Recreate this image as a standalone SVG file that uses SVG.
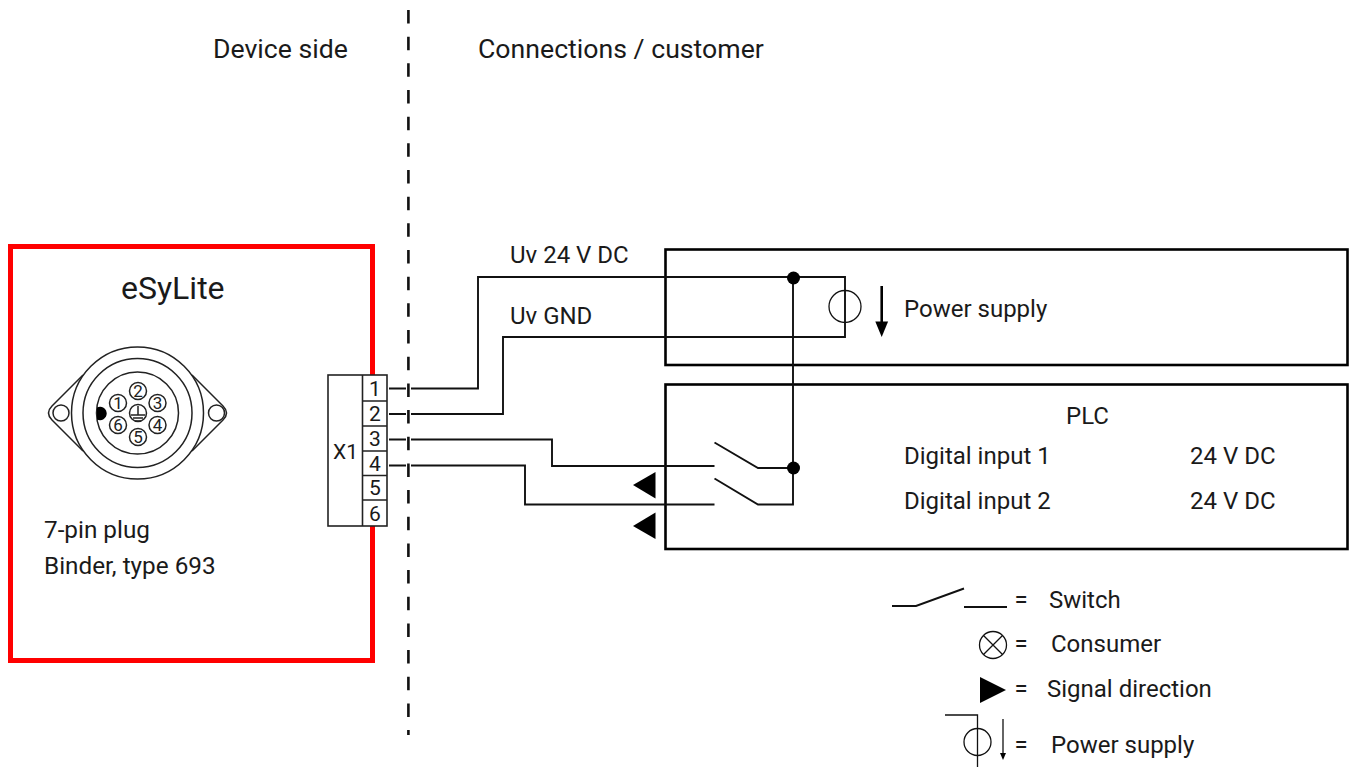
<svg xmlns="http://www.w3.org/2000/svg" width="1353" height="767" viewBox="0 0 1353 767">
<style>
text{font-family:Roboto,"Liberation Sans",sans-serif;fill:#1a1a1a;font-size:24px}
.h{font-size:26.67px}
.m{font-size:24px}
.l{fill:none;stroke:#111;stroke-width:1.9}
.t{fill:none;stroke:#111;stroke-width:1.3}
.b{fill:#000;stroke:none}
.box{fill:none;stroke:#000;stroke-width:2.6}
.pin{fill:none;stroke:#222;stroke-width:1.5}
.d{font-size:17px;text-anchor:middle;fill:#222}
.n{text-anchor:middle;font-size:21px}
</style>
<rect width="1353" height="767" fill="#fff"/>
<g id="device"><rect x="10.500" y="246.500" width="362" height="414" fill="none" stroke="#f00" stroke-width="5"/></g>
<g id="divider"><line x1="408.400" y1="10" x2="408.400" y2="735" stroke="#111" stroke-width="2.600" stroke-dasharray="13.500 13.170"/></g>
<g id="labels">
<text class="h" x="213" y="58">Device side</text>
<text class="h" x="478" y="58">Connections / customer</text>
<text x="121" y="299" style="font-size:32px">eSyLite</text>
<text class="m" x="44" y="538" style="font-size:24.3px">7-pin plug</text>
<text class="m" x="44" y="574" style="font-size:24.3px">Binder, type 693</text>
<text class="m" x="510" y="263">Uv 24 V DC</text>
<text class="m" x="510" y="324">Uv GND</text>
</g>
<g id="plug">
<path class="pin" d="M83 375L52 406Q45 413 52 420L83 451M192 375L223 406Q230 413 223 420L192 451"/>
<circle class="pin" cx="137.500" cy="413" r="66"/>
<circle class="pin" cx="137.500" cy="413" r="54.500"/>
<circle class="pin" cx="137.500" cy="413" r="41"/>
<circle class="pin" cx="61" cy="413" r="8"/>
<circle class="pin" cx="216.500" cy="413" r="8"/>
<path class="b" d="M97 407.500A6.700 6.700 0 1 1 97 419.500Z"/>
<g class="pins">
<circle class="pin" cx="118" cy="403" r="8.500"/><text class="d" x="118" y="409">1</text>
<circle class="pin" cx="138" cy="391" r="8.500"/><text class="d" x="138" y="397">2</text>
<circle class="pin" cx="157.500" cy="403" r="8.500"/><text class="d" x="157.500" y="409">3</text>
<circle class="pin" cx="157.500" cy="425" r="8.500"/><text class="d" x="157.500" y="431">4</text>
<circle class="pin" cx="138" cy="437" r="8.500"/><text class="d" x="138" y="443">5</text>
<circle class="pin" cx="118" cy="425" r="8.500"/><text class="d" x="118" y="431">6</text>
<circle class="pin" cx="138" cy="413" r="8.500"/>
<path class="pin" d="M138 406V415M131 415H145M133 418H143M135 421H141"/>
</g>
</g>
<g id="x1">
<rect x="328" y="375" width="59" height="151" fill="#fff" stroke="#222" stroke-width="1.600"/>
<path d="M362.500 375V526M362.500 401H387M362.500 426H387M362.500 451H387M362.500 475.500H387M362.500 500H387" fill="none" stroke="#222" stroke-width="1.600"/>
<text class="n" x="345.500" y="459">X1</text>
<text class="n" x="375" y="396">1</text>
<text class="n" x="375" y="421">2</text>
<text class="n" x="375" y="446">3</text>
<text class="n" x="375" y="471">4</text>
<text class="n" x="375" y="495">5</text>
<text class="n" x="375" y="521">6</text>
</g>
<g id="power-supply">
<rect class="box" x="665.500" y="249.500" width="682" height="115.500"/>
<text x="904" y="317">Power supply</text>
</g>
<g id="plc">
<rect class="box" x="665.500" y="384.500" width="682" height="164.500"/>
<text x="1066" y="424">PLC</text>
<text x="904" y="464">Digital input 1</text>
<text x="1190" y="464">24 V DC</text>
<text x="904" y="509">Digital input 2</text>
<text x="1190" y="509">24 V DC</text>
</g>
<g id="connectors">
<path class="l" d="M389 388.500H406M411 388.500H478V277H845V337H503V414H411M406 414H389"/>
<path class="l" d="M389 439.500H406M411 439.500H552V466H714.500"/>
<path class="l" d="M389 465.500H406M411 465.500H525V504.500H714.500"/>
<path class="l" d="M793 278V504.500H758L714.500 478.500M793 468H758L714.500 442.500"/>
<circle class="t" cx="845" cy="306.500" r="16"/>
<circle class="b" cx="793.500" cy="278" r="6.500"/>
<circle class="b" cx="793.500" cy="468" r="6.500"/>
<path d="M881.700 286V325" fill="none" stroke="#000" stroke-width="2.600"/>
<path class="b" d="M875.300 321.500H888.100L881.700 337Z"/>
<path class="b" d="M633 485L655.500 472V498.500Z"/>
<path class="b" d="M633 526L655.500 512.500V539Z"/>
</g>
<g id="legend">
<path class="l" d="M892 606H916L964 588.500M964 607H1007"/>
<text x="1014.500" y="608">=</text><text x="1049" y="608">Switch</text>
<circle class="t" cx="993" cy="645" r="13.500"/>
<path class="t" d="M983.500 635.500L1002.500 654.500M1002.500 635.500L983.500 654.500"/>
<text x="1014.500" y="652">=</text><text x="1051" y="652">Consumer</text>
<path class="b" d="M980 677V703L1006 690Z"/>
<text x="1014.500" y="697">=</text><text x="1047" y="697">Signal direction</text>
<path class="t" d="M945 715H977.500V767"/>
<circle class="t" cx="977.500" cy="742" r="13.500"/>
<path class="t" d="M1003 719V756"/>
<path class="b" d="M1000 753H1006L1003 760Z"/>
<text x="1014.500" y="753">=</text><text x="1051" y="753">Power supply</text>
</g>
</svg>
